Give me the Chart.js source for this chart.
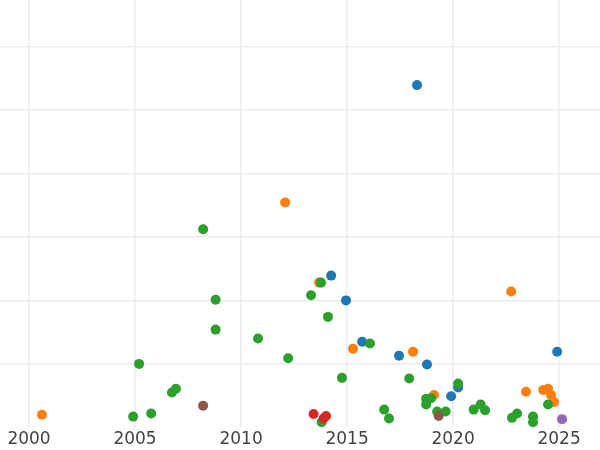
<!DOCTYPE html>
<html>
<head>
<meta charset="utf-8">
<script src="https://cdn.jsdelivr.net/npm/chart.js@4"></script>
<style>
  body { margin: 0; background: #fff; }
  #wrap { width: 600px; height: 450px; }
</style>
</head>
<body>
<div id="wrap"><canvas id="grafico" width="600" height="450"></canvas></div>
<script>
// points per colour group: [year, value]
var blue = [
  [2018.30, 53.9], [2014.25, 23.9], [2014.95, 20.0], [2015.71, 13.5], [2017.45, 11.3],
  [2018.77, 9.9], [2024.91, 11.9], [2019.91, 4.9], [2020.24, 6.3]
];
var orange = [
  [2000.61, 2.0], [2012.08, 35.4], [2013.68, 22.8], [2015.28, 12.4], [2018.11, 11.9],
  [2022.74, 21.4], [2019.10, 5.1], [2023.44, 5.6], [2024.25, 5.9], [2024.48, 6.1],
  [2024.62, 5.1], [2024.76, 4.0]
];
var green = [
  [2004.91, 1.7], [2005.76, 2.2], [2006.74, 5.5], [2006.93, 6.1], [2005.19, 10.0],
  [2008.21, 31.2], [2008.80, 20.1], [2008.80, 15.4], [2010.80, 14.0], [2012.22, 10.9],
  [2013.30, 20.8], [2013.77, 22.8], [2014.10, 17.4], [2014.76, 7.8], [2016.08, 13.2],
  [2013.80, 0.8], [2016.75, 2.8], [2016.98, 1.4], [2017.93, 7.7], [2018.73, 4.5],
  [2018.96, 4.6], [2018.73, 3.6], [2019.25, 2.5], [2019.65, 2.5], [2020.24, 6.9],
  [2020.97, 2.8], [2021.30, 3.6], [2021.51, 2.7], [2022.78, 1.5], [2023.02, 2.2],
  [2023.77, 1.7], [2023.77, 0.8], [2024.48, 3.6]
];
var red = [[2013.42, 2.1], [2013.89, 1.4], [2014.01, 1.8]];
var brown = [[2008.21, 3.4], [2019.32, 1.8]];
var purple = [[2025.14, 1.3]];

var xTicks = [2000, 2005, 2010, 2015, 2020, 2025];

function pts(arr) {
  return arr.map(function(p) { return { x: p[0], y: p[1] }; });
}

function serie(nome, arr, cor) {
  return {
    label: nome,
    data: pts(arr),
    backgroundColor: cor,
    borderWidth: 0,
    pointRadius: 5,
    pointHoverRadius: 5
  };
}

// first dataset is drawn on top
var data = {
  datasets: [
    serie('brown', brown, '#8c564b'),
    serie('purple', purple, '#9467bd'),
    serie('red', red, '#d62728'),
    serie('green', green, '#2ca02c'),
    serie('orange', orange, '#ff7f0e'),
    serie('blue', blue, '#1f77b4')
  ]
};

var ctx = document.getElementById('grafico').getContext('2d');
new Chart(ctx, {
  type: 'scatter',
  data: data,
  options: {
    responsive: false,
    animation: false,
    layout: { padding: 0, autoPadding: false },
    plugins: { legend: { display: false }, tooltip: { enabled: false } },
    scales: {
      x: {
        type: 'linear',
        min: 1998.63,
        max: 2026.93,
        border: { display: false },
        grid: { color: '#ebebeb', lineWidth: 1.5, drawTicks: false },
        afterBuildTicks: function(axis) {
          axis.ticks = xTicks.map(function(v) { return { value: v }; });
        },
        afterFit: function(axis) {
          axis.height = 22.6;
        },
        ticks: {
          padding: 2,
          color: '#444',
          font: { family: 'DejaVu Sans', size: 17 },
          callback: function(v) { return String(v); }
        }
      },
      y: {
        min: 0,
        max: 67.3,
        border: { display: false },
        grid: {
          lineWidth: 1.5,
          drawTicks: false,
          color: function(c) { return c.tick && c.tick.value === 0 ? 'rgba(0,0,0,0)' : '#ebebeb'; }
        },
        ticks: { display: false, stepSize: 10, includeBounds: false }
      }
    }
  }
});
</script>
</body>
</html>
